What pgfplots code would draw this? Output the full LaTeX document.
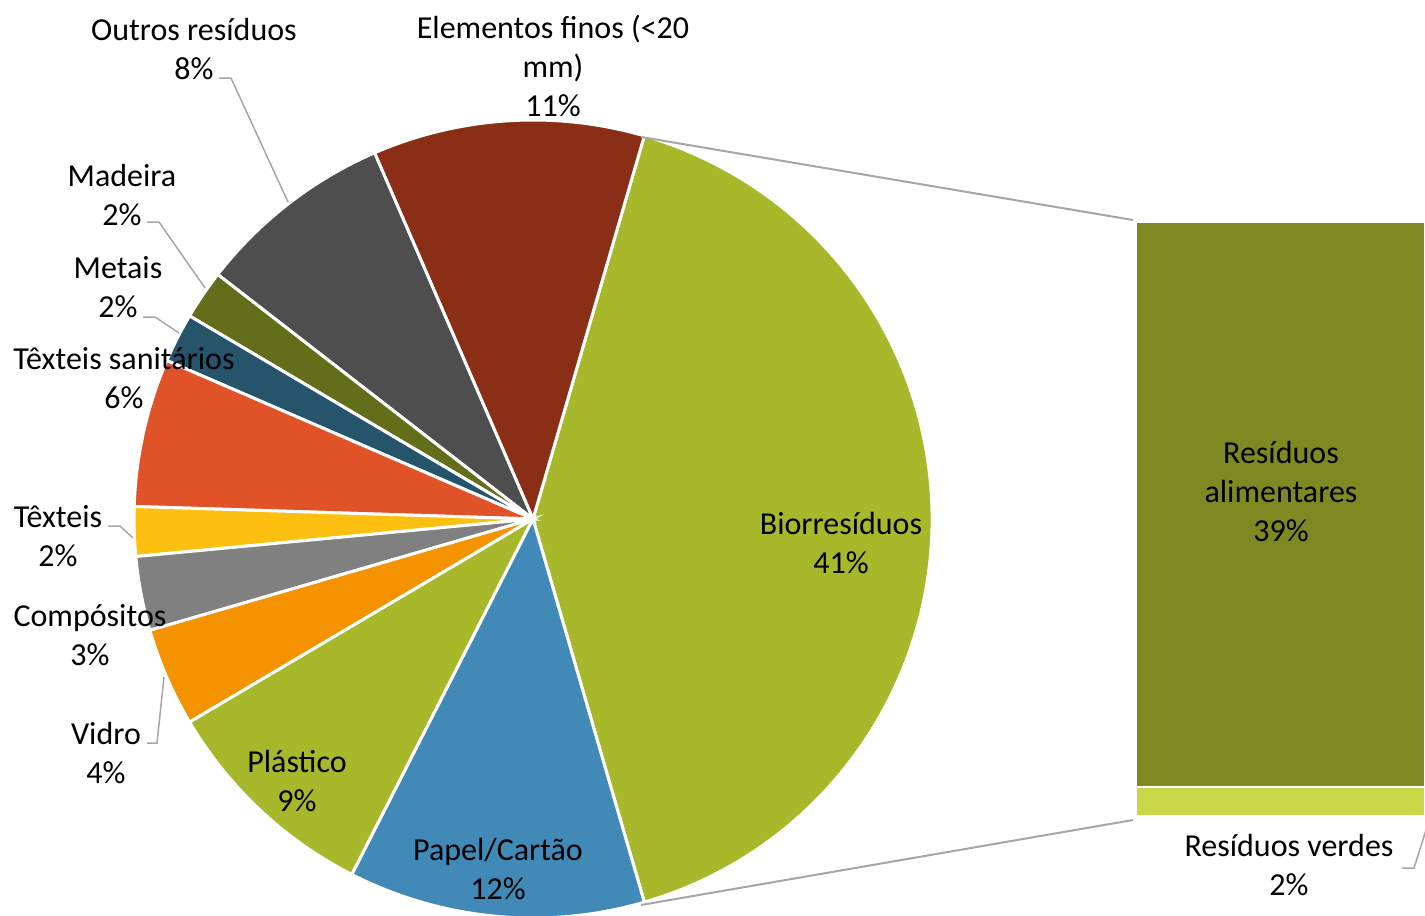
\documentclass[border=0pt]{standalone}
\usepackage{pgfplots}
\usepackage{pgfplotstable}
\pgfplotsset{compat=1.18}
\usepackage{fontspec}
\setmainfont{Carlito}

\definecolor{cBio}{HTML}{A7B82A}
\definecolor{cFinos}{HTML}{8A2E16}
\definecolor{cOutros}{HTML}{4E4E4E}
\definecolor{cMadeira}{HTML}{636E1A}
\definecolor{cMetais}{HTML}{26546B}
\definecolor{cTexSan}{HTML}{E05328}
\definecolor{cTex}{HTML}{FDC010}
\definecolor{cComp}{HTML}{808080}
\definecolor{cVidro}{HTML}{F49200}
\definecolor{cPlast}{HTML}{A7B82A}
\definecolor{cPapel}{HTML}{4189B6}
\definecolor{cAlim}{HTML}{7E8A21}
\definecolor{cVerdes}{HTML}{C8D747}
\definecolor{cLine}{HTML}{A6A6A6}

% pie slices, counter-clockwise starting with Biorresiduos centred on the right
\pgfplotstableread{
value color
41 cBio
11 cFinos
8  cOutros
2  cMadeira
2  cMetais
6  cTexSan
2  cTex
3  cComp
4  cVidro
9  cPlast
12 cPapel
}\piedata

\begin{document}
\begin{tikzpicture}[font=\fontsize{16}{19.5}\selectfont]
\useasboundingbox (0,0) rectangle (712.5pt,458pt);

% bar of the split slice (drawn first so its labels go on top)
\begin{axis}[
    at={(568pt,50pt)}, anchor=south west,
    width=144.5pt, height=297pt, scale only axis,
    xmin=-0.5, xmax=0.5, ymin=0, ymax=41,
    hide axis, clip=false,
    ybar stacked, bar width=144.5pt,
]
\addplot[fill=cVerdes, draw=white, line width=1pt] coordinates {(0,2)};
\addplot[fill=cAlim, draw=white, line width=1pt] coordinates {(0,39)};
\end{axis}

% pie, in pixel coordinates of the picture
\begin{axis}[
    at={(0,0)}, anchor=south west,
    x=0.5pt, y=0.5pt,
    xmin=0, xmax=1425, ymin=0, ymax=916,
    y dir=reverse,
    hide axis, clip=false,
]
\pgfplotsextra{
  \pgfplotstablegetelem{0}{value}\of\piedata
  \pgfmathsetmacro\startang{-1.8*\pgfplotsretval}
  \xdef\curang{\startang}
  \foreach \i in {0,...,10}{
    \pgfplotstablegetelem{\i}{value}\of\piedata
    \pgfmathsetmacro\endang{\curang+3.6*\pgfplotsretval}
    \pgfplotstablegetelem{\i}{color}\of\piedata
    \edef\slicecol{\pgfplotsretval}
    \fill[fill=\slicecol, draw=white, line width=1.5pt]
      (axis cs:533,519) -- ++(\curang:199.5pt)
      arc[start angle=\curang, end angle=\endang, radius=199.5pt] -- cycle;
    \xdef\curang{\endang}
  }
}

% connectors to the bar
\draw[cLine, line width=1pt] (axis cs:641,137) -- (axis cs:1133,220);
\draw[cLine, line width=1pt] (axis cs:641,905) -- (axis cs:1133,820);

% leader lines
\draw[cLine, line width=0.75pt] (axis cs:219,78) -- (axis cs:231,78) -- (axis cs:288,202);
\draw[cLine, line width=0.75pt] (axis cs:147,222) -- (axis cs:159,222) -- (axis cs:205,288);
\draw[cLine, line width=0.75pt] (axis cs:143,317) -- (axis cs:155,317) -- (axis cs:179,333);
\draw[cLine, line width=0.75pt] (axis cs:108,526) -- (axis cs:120,526) -- (axis cs:133,538);
\draw[cLine, line width=0.75pt] (axis cs:147,743) -- (axis cs:157,743) -- (axis cs:164,677);
\draw[cLine, line width=0.75pt] (axis cs:1402,868) -- (axis cs:1414,868) -- (axis cs:1426,830);

% labels
\node[align=center, inner sep=0] at (axis cs:194,49.5) {Outros resíduos\\8\%};
\node[align=center, inner sep=0] at (axis cs:553,65.5) {Elementos finos (<20\\mm)\\11\%};
\node[align=center, inner sep=0] at (axis cs:122,195.5) {Madeira\\2\%};
\node[align=center, inner sep=0] at (axis cs:118,287.5) {Metais\\2\%};
\node[align=center, inner sep=0] at (axis cs:124,378) {Têxteis sanitários\\6\%};
\node[align=center, inner sep=0] at (axis cs:58,536.5) {Têxteis\\2\%};
\node[align=center, inner sep=0] at (axis cs:90,635.5) {Compósitos\\3\%};
\node[align=center, inner sep=0] at (axis cs:106,753.5) {Vidro\\4\%};
\node[align=center, inner sep=0] at (axis cs:297,781.5) {Plástico\\9\%};
\node[align=center, inner sep=0] at (axis cs:498,869.5) {Papel/Cartão\\12\%};
\node[align=center, inner sep=0] at (axis cs:841,543.5) {Biorresíduos\\41\%};
\node[align=center, inner sep=0] at (axis cs:1281,492) {Resíduos\\alimentares\\39\%};
\node[align=center, inner sep=0] at (axis cs:1289,865.5) {Resíduos verdes\\2\%};
\end{axis}
\end{tikzpicture}
\end{document}
